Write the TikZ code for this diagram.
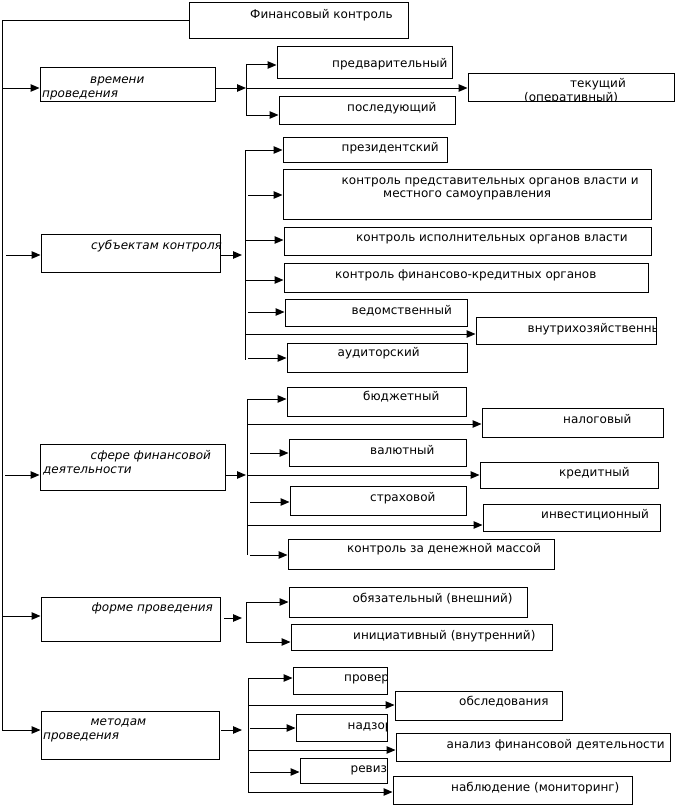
\documentclass[tikz,border=0pt]{standalone}
\usepackage{fontspec}
\setmainfont{DejaVu Sans}
\usetikzlibrary{arrows.meta,fit}
\newcommand\bx[5]{\node[box, fit={(#2,#3) (#4,#5)}] (#1) {};}
\begin{document}
\begin{tikzpicture}[x=1pt,y=-1pt,
 box/.style={draw,line width=1pt,inner sep=0pt},
 lbl/.style={anchor=mid west,inner sep=0pt,yshift=-1.5pt,font=\fontsize{12}{14}\selectfont},
 itl/.style={anchor=mid west,inner sep=0pt,yshift=-1.5pt,font=\fontsize{12}{14}\selectfont\itshape},
 ln/.style={line width=1pt},
 arr/.style={line width=1pt,-{Triangle[length=9pt,width=7.5pt]}}]
\useasboundingbox (0,0) rectangle (679,808);
% boxes
\bx{fin}{189}{3}{408}{39}
\bx{vrem}{40}{68}{215}{101}
\bx{pred}{277}{47}{452}{78}
\bx{tek}{468}{73}{674}{101}
\bx{posl}{279}{96}{455}{124}
\bx{subj}{41}{234}{220}{272}
\bx{prez}{283}{137}{447}{162}
\bx{predst}{283}{169}{651}{219}
\bx{ispoln}{284}{227}{651}{255}
\bx{fincred}{284}{263}{648}{292}
\bx{vedom}{285}{299}{467}{326}
\bx{vnutr}{476}{317}{656}{344}
\bx{audit}{287}{343}{467}{372}
\bx{sfera}{40}{444}{225}{490}
\bx{budget}{287}{387}{466}{416}
\bx{nalog}{482}{408}{663}{437}
\bx{valut}{289}{439}{466}{466}
\bx{kredit}{480}{462}{658}{488}
\bx{strakh}{290}{486}{466}{515}
\bx{invest}{483}{504}{660}{531}
\bx{massa}{288}{539}{554}{569}
\bx{forma}{41}{597}{220}{641}
\bx{obyaz}{289}{587}{527}{617}
\bx{inic}{291}{624}{552}{650}
\bx{metod}{41}{711}{219}{759}
\bx{prov}{293}{667}{387}{694}
\bx{obsl}{395}{691}{562}{720}
\bx{nadz}{296}{714}{387}{741}
\bx{analiz}{396}{733}{670}{761}
\bx{reviz}{300}{758}{387}{783}
\bx{nabl}{393}{776}{632}{804}
% texts
\node[lbl] (finT) at (250,14) {Финансовый контроль};
\node[itl] (vremT1) at (90,79) {времени};
\node[itl] (vremT2) at (42,93) {проведения};
\node[lbl] (predT) at (332,63) {предварительный};
\node[lbl] (tekT1) at (570,83) {текущий};
\begin{scope}
\clip (tek.south west) rectangle (tek.north east);
\node[lbl] (tekT2) at (524,97.5) {(оперативный)};
\end{scope}
\node[lbl] (poslT) at (347,107) {последующий};
\node[itl] (subjT) at (91,245.5) {субъектам контроля};
\node[lbl] (prezT) at (341.5,147) {президентский};
\node[lbl] (predstT1) at (341.5,180) {контроль представительных органов власти и};
\node[lbl] (predstT2) at (383,193.5) {местного самоуправления};
\node[lbl] (ispolnT) at (356,237) {контроль исполнительных органов власти};
\node[lbl] (fincredT) at (335,274) {контроль финансово-кредитных органов};
\node[lbl] (vedomT) at (351.5,310) {ведомственный};
\begin{scope}
\clip (vnutr.south west) rectangle (vnutr.north east);
\node[lbl] (vnutrT) at (527.5,328) {внутрихозяйственный};
\end{scope}
\node[lbl] (auditT) at (337.5,352.5) {аудиторский};
\node[itl] (sferaT1) at (90.5,455) {сфере финансовой};
\node[itl] (sferaT2) at (43,469) {деятельности};
\node[lbl] (budgetT) at (363,396.5) {бюджетный};
\node[lbl] (nalogT) at (563,419) {налоговый};
\node[lbl] (valutT) at (370,450) {валютный};
\node[lbl] (kreditT) at (559,472.5) {кредитный};
\node[lbl] (strakhT) at (370,497) {страховой};
\node[lbl] (investT) at (541,514) {инвестиционный};
\node[lbl] (massaT) at (347,548) {контроль за денежной массой};
\node[itl] (formaT) at (91.5,607) {форме проведения};
\node[lbl] (obyazT) at (352.5,598) {обязательный (внешний)};
\node[lbl] (inicT) at (353,635) {инициативный (внутренний)};
\node[itl] (metodT1) at (90.5,721.5) {методам};
\node[itl] (metodT2) at (43,735.5) {проведения};
\begin{scope}
\clip (prov.south west) rectangle (prov.north east);
\node[lbl] (provT) at (344,677) {проверки};
\end{scope}
\node[lbl] (obslT) at (459,701.5) {обследования};
\begin{scope}
\clip (nadz.south west) rectangle (nadz.north east);
\node[lbl] (nadzT) at (347.5,725) {надзор};
\end{scope}
\node[lbl] (analizT) at (446.5,744) {анализ финансовой деятельности};
\begin{scope}
\clip (reviz.south west) rectangle (reviz.north east);
\node[lbl] (revizT) at (350.5,768) {ревизия};
\end{scope}
\node[lbl] (nablT) at (451,787) {наблюдение (мониторинг)};
% trunk
\coordinate (tA) at (2,88);
\coordinate (tB) at (6,255);
\coordinate (tC) at (5,475);
\coordinate (tD) at (2,616);
\coordinate (tE) at (2,730);
\draw[ln] (fin.west) -| (tE);
\draw[arr] (tA) -- (tA -| vrem.west);
\draw[arr] (tB) -- (tB -| subj.west);
\draw[arr] (tC) -- (tC -| sfera.west);
\draw[arr] (tD) -- (tD -| forma.west);
\draw[arr] (tE) -- (tE -| metod.west);
% group A
\coordinate (aT) at (246,64); \coordinate (aB) at (246,116);
\draw[ln] (aT) -- (aB);
\coordinate (aM) at (246,88);
\draw[arr] (aM -| vrem.east) -- (aM);
\draw[arr] (aM) -- (aM -| tek.west);
\coordinate (a1) at (246,65); \draw[arr] (a1) -- (a1 -| pred.west);
\coordinate (a3) at (246,115); \draw[arr] (a3) -- (a3 -| posl.west);
% group B
\coordinate (bT) at (245,150); \coordinate (bB) at (245,360);
\draw[ln] (bT) -- (bB);
\coordinate (bIn) at (242,255); \draw[arr] (bIn -| subj.east) -- (bIn);
\draw[arr] (bT) -- (bT -| prez.west);
\coordinate (b2) at (248,195); \draw[arr] (b2) -- (b2 -| predst.west);
\coordinate (b3) at (245,240); \draw[arr] (b3) -- (b3 -| ispoln.west);
\coordinate (b4) at (246,280); \draw[arr] (b4) -- (b4 -| fincred.west);
\coordinate (b5) at (248,312); \draw[arr] (b5) -- (b5 -| vedom.west);
\coordinate (b6) at (245,334); \draw[arr] (b6) -- (b6 -| vnutr.west);
\coordinate (b7) at (248,358); \draw[arr] (b7) -- (b7 -| audit.west);
% group C
\coordinate (cT) at (247,399); \coordinate (cB) at (247,555);
\draw[ln] (cT) -- (cB);
\coordinate (cIn) at (246,475); \draw[arr] (cIn -| sfera.east) -- (cIn);
\draw[arr] (cT) -- (cT -| budget.west);
\coordinate (c2) at (247,424); \draw[arr] (c2) -- (c2 -| nalog.west);
\coordinate (c3) at (250,453); \draw[arr] (c3) -- (c3 -| valut.west);
\coordinate (c4) at (247,475); \draw[arr] (c4) -- (c4 -| kredit.west);
\coordinate (c5) at (250,502); \draw[arr] (c5) -- (c5 -| strakh.west);
\coordinate (c6) at (247,525); \draw[arr] (c6) -- (c6 -| invest.west);
\coordinate (c7) at (250,555); \draw[arr] (c7) -- (c7 -| massa.west);
% group D
\coordinate (dT) at (246,602); \coordinate (dB) at (246,642);
\draw[ln] (dT) -- (dB);
\coordinate (dS) at (224,618); \coordinate (dIn) at (242,618);
\draw[arr] (dS) -- (dIn);
\draw[arr] (dT) -- (dT -| obyaz.west);
\draw[arr] (dB) -- (dB -| inic.west);
% group E
\coordinate (eT) at (248,678); \coordinate (eB) at (248,792);
\draw[ln] (eT) -- (eB);
\coordinate (eS) at (221,730); \coordinate (eIn) at (242,730);
\draw[arr] (eS) -- (eIn);
\draw[arr] (eT) -- (eT -| prov.west);
\coordinate (e2) at (248,705); \draw[arr] (e2) -- (e2 -| obsl.west);
\coordinate (e3) at (250,728); \draw[arr] (e3) -- (e3 -| nadz.west);
\coordinate (e4) at (248,750); \draw[arr] (e4) -- (e4 -| analiz.west);
\coordinate (e5) at (250,772); \draw[arr] (e5) -- (e5 -| reviz.west);
\draw[arr] (eB) -- (eB -| nabl.west);
\end{tikzpicture}
\end{document}
